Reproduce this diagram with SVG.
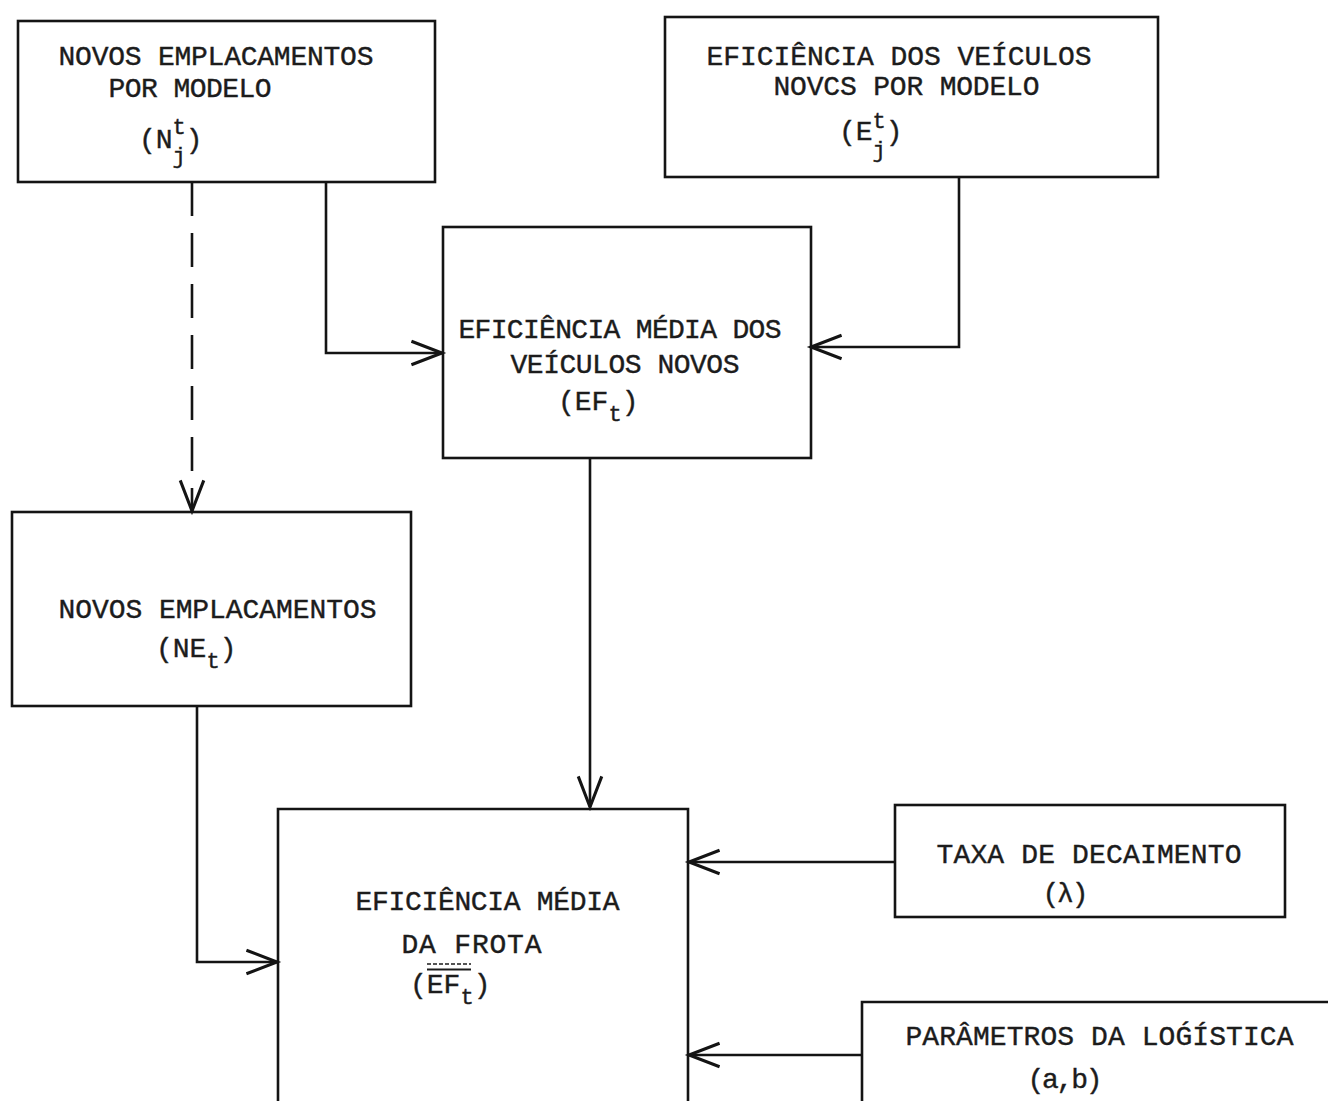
<svg xmlns="http://www.w3.org/2000/svg" width="1328" height="1101" viewBox="0 0 1328 1101">
<defs>
<style>
.box{fill:none;stroke:#141414;stroke-width:2.6}
.ln{fill:none;stroke:#141414;stroke-width:2.6}
.dash{stroke-dasharray:34 17}
.tx{font-family:"Liberation Mono","DejaVu Sans Mono",monospace;font-size:28px;fill:#1c1c1c;stroke:#1c1c1c;stroke-width:0.4}
.sm{font-size:22px}
</style>
<marker id="ah" markerUnits="userSpaceOnUse" markerWidth="40" markerHeight="40" viewBox="-30 -15 34 30" refX="0" refY="0" orient="auto">
<path d="M-26,-10 L0,0 L-26,10" fill="none" stroke="#141414" stroke-width="2.6"/>
</marker>
</defs>
<rect width="1328" height="1101" fill="#ffffff"/>

<g id="connectors">
<path class="ln dash" d="M192,182 V511" marker-end="url(#ah)"/>
<path class="ln" d="M326,181 V353 H442" marker-end="url(#ah)"/>
<path class="ln" d="M959,177 V347 H811" marker-end="url(#ah)"/>
<path class="ln" d="M590,458 V807" marker-end="url(#ah)"/>
<path class="ln" d="M197,706 V962 H277" marker-end="url(#ah)"/>
<path class="ln" d="M895,862 H689" marker-end="url(#ah)"/>
<path class="ln" d="M862,1055 H689" marker-end="url(#ah)"/>
</g>

<g id="node-novos-emplacamentos-modelo">
<rect class="box" x="18" y="21" width="417" height="161"/>
<text class="tx" x="58.5" y="65" textLength="315" lengthAdjust="spacing">NOVOS EMPLACAMENTOS</text>
<text class="tx" x="108.5" y="97" textLength="163" lengthAdjust="spacing">POR MODELO</text>
<text class="tx" x="139" y="148">(N<tspan class="sm" dy="-14">t</tspan><tspan class="sm" x="172.6" dy="29">j</tspan><tspan dy="-15">)</tspan></text>
</g>

<g id="node-eficiencia-veiculos-modelo">
<rect class="box" x="665" y="17" width="493" height="160"/>
<text class="tx" x="706.5" y="65" textLength="385" lengthAdjust="spacing">EFICIÊNCIA DOS VEÍCULOS</text>
<text class="tx" x="773.5" y="95" textLength="266" lengthAdjust="spacing">NOVCS POR MODELO</text>
<text class="tx" x="839" y="140">(E<tspan class="sm" dy="-12">t</tspan><tspan class="sm" x="872.6" dy="29">j</tspan><tspan dy="-17">)</tspan></text>
</g>

<g id="node-eficiencia-media-novos">
<rect class="box" x="443" y="227" width="368" height="231"/>
<text class="tx" x="458.5" y="338" textLength="323" lengthAdjust="spacing">EFICIÊNCIA MÉDIA DOS</text>
<text class="tx" x="510.5" y="373" textLength="229" lengthAdjust="spacing">VEÍCULOS NOVOS</text>
<text class="tx" x="558" y="410">(EF<tspan class="sm" dy="11">t</tspan><tspan dy="-11">)</tspan></text>
</g>

<g id="node-novos-emplacamentos">
<rect class="box" x="12" y="512" width="399" height="194"/>
<text class="tx" x="58.5" y="618" textLength="318" lengthAdjust="spacing">NOVOS EMPLACAMENTOS</text>
<text class="tx" x="156" y="657">(NE<tspan class="sm" dy="11">t</tspan><tspan dy="-11">)</tspan></text>
</g>

<g id="node-eficiencia-media-frota">
<path class="box" d="M278,1110 V809 H688 V1110"/>
<text class="tx" x="355.5" y="910" textLength="264" lengthAdjust="spacing">EFICIÊNCIA MÉDIA</text>
<text class="tx" x="401.5" y="953" textLength="140" lengthAdjust="spacing">DA FROTA</text>
<line x1="427" y1="964" x2="471" y2="964" stroke="#1c1c1c" stroke-width="1.3" stroke-dasharray="4 2"/>
<line x1="427" y1="969.5" x2="471" y2="969.5" stroke="#1c1c1c" stroke-width="1.8"/>
<text class="tx" x="410" y="993">(EF<tspan class="sm" dy="11">t</tspan><tspan dy="-11">)</tspan></text>
</g>

<g id="node-taxa-decaimento">
<rect class="box" x="895" y="805" width="390" height="112"/>
<text class="tx" x="936.5" y="863" textLength="305" lengthAdjust="spacing">TAXA DE DECAIMENTO</text>
<text class="tx" x="1042.5" y="902" textLength="46" lengthAdjust="spacing">(λ)</text>
</g>

<g id="node-parametros-logistica">
<path class="box" d="M862,1110 V1002 H1330"/>
<text class="tx" x="905.5" y="1045" textLength="388" lengthAdjust="spacing">PARÂMETROS DA LOǴÍSTICA</text>
<text class="tx" x="1027.5" y="1088" textLength="75" lengthAdjust="spacing">(a,b)</text>
</g>
</svg>
